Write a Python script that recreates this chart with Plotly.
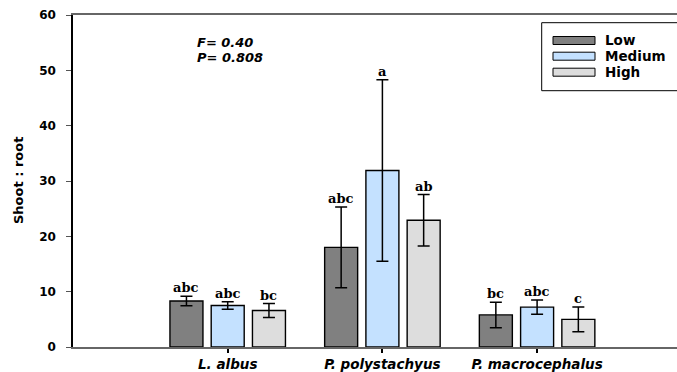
import plotly.graph_objects as go

# ---- data ----
species = ["L. albus", "P. polystachyus", "P. macrocephalus"]
levels = ["Low", "Medium", "High"]
colors = ["#808080", "#C4E1FF", "#DDDDDD"]

means_low = [8.3, 18.0, 5.8]
means_medium = [7.5, 31.9, 7.2]
means_high = [6.6, 22.9, 5.0]

err_low = [0.85, 7.3, 2.3]
err_medium = [0.7, 16.4, 1.3]
err_high = [1.25, 4.65, 2.25]

letters_low = ["abc", "abc", "bc"]
letters_medium = ["abc", "a", "abc"]
letters_high = ["bc", "ab", "c"]

stats_lines = ["F= 0.40", "P= 0.808"]
y_title = "Shoot : root"
y_ticks = [0, 10, 20, 30, 40, 50, 60]

means = [means_low, means_medium, means_high]
errs = [err_low, err_medium, err_high]
letters = [letters_low, letters_medium, letters_high]

# ---- geometry ----
W, H = 677, 372
ML, MR, MT, MB = 73, 0, 15, 25
PW, PH = W - ML - MR, H - MT - MB
UNIT = 154.7                      # px per category step
X_MAX = PW / UNIT
BARGAP, GROUPGAP = 0.2, 0.2
SLOT = (1 - BARGAP) / len(levels)

xpos = [i + 1 for i in range(len(species))]


def px_x(p):
    return (p - ML) / PW


def px_y(p):
    return (H - MB - p) / PH


SANS = "DejaVu Sans"
SERIF = "DejaVu Serif"

fig = go.Figure()
for k, lvl in enumerate(levels):
    fig.add_trace(go.Bar(
        x=xpos, y=means[k], name=lvl,
        marker=dict(color=colors[k], line=dict(color="black", width=1.4)),
        error_y=dict(type="data", array=errs[k], visible=True,
                     color="black", thickness=1.5, width=6),
        showlegend=False,
    ))

annotations = []
# significance letters above the error bars
for k in range(len(levels)):
    off = (k - 1) * SLOT
    for i, x in enumerate(xpos):
        annotations.append(dict(
            x=x + off, y=means[k][i] + errs[k][i], xref="x", yref="y",
            text=f"<b>{letters[k][i]}</b>", showarrow=False,
            xanchor="center", yanchor="bottom", yshift=-1,
            font=dict(family=SERIF, size=13, color="black"),
        ))

# statistics text
for j, line in enumerate(stats_lines):
    annotations.append(dict(
        x=px_x(195), y=px_y(42 + 15 * j), xref="paper", yref="paper",
        text=f"<b><i>{line}</i></b>", showarrow=False,
        xanchor="left", yanchor="middle",
        font=dict(family=SANS, size=13, color="black"),
    ))

# y-axis title
annotations.append(dict(
    x=px_x(18), y=0.5, xref="paper", yref="paper",
    text=f"<b>{y_title}</b>", showarrow=False, textangle=-90,
    xanchor="center", yanchor="middle",
    font=dict(family=SANS, size=13, color="black"),
))

# legend box
shapes = [dict(
    type="rect", xref="paper", yref="paper",
    x0=px_x(541.7), x1=px_x(700), y0=px_y(90.7), y1=px_y(22.7),
    line=dict(color="black", width=1), fillcolor="white", layer="above",
)]
row_y = [40.5, 56.2, 72.2]
for k, lvl in enumerate(levels):
    shapes.append(dict(
        type="rect", xref="paper", yref="paper",
        x0=px_x(553), x1=px_x(595), y0=px_y(row_y[k] + 4), y1=px_y(row_y[k] - 4),
        line=dict(color="black", width=1), fillcolor=colors[k], layer="above",
    ))
    annotations.append(dict(
        x=px_x(603), y=px_y(row_y[k]), xref="paper", yref="paper",
        text=f"<b>{lvl}</b>", showarrow=False,
        xanchor="left", yanchor="middle",
        font=dict(family=SANS, size=13.5, color="black"),
    ))

fig.update_layout(
    width=W, height=H, autosize=False,
    margin=dict(l=ML, r=MR, t=MT, b=MB, pad=0, autoexpand=False),
    paper_bgcolor="white", plot_bgcolor="white",
    barmode="group", bargap=BARGAP, bargroupgap=GROUPGAP,
    annotations=annotations, shapes=shapes,
    xaxis=dict(
        range=[0, X_MAX], tickvals=xpos,
        ticktext=[f"<b><i>{s}</i></b>" for s in species],
        ticks="outside", ticklen=4, tickwidth=1.5, tickcolor="black",
        showline=True, linecolor="#666666", linewidth=1.5, mirror=True,
        showgrid=False, zeroline=False, ticklabelstandoff=0, automargin=False,
        tickfont=dict(family=SANS, size=13.5, color="black"),
    ),
    yaxis=dict(
        range=[0, 60], tickvals=y_ticks,
        ticktext=[f"<b>{t}</b>" for t in y_ticks],
        ticks="outside", ticklen=5, tickwidth=1, tickcolor="#555555",
        showline=True, linecolor="black", linewidth=1.5, mirror=False,
        showgrid=False, zeroline=False, ticklabelstandoff=8, automargin=False,
        tickfont=dict(family=SANS, size=12, color="black"),
    ),
)

fig.write_html("out.html")
